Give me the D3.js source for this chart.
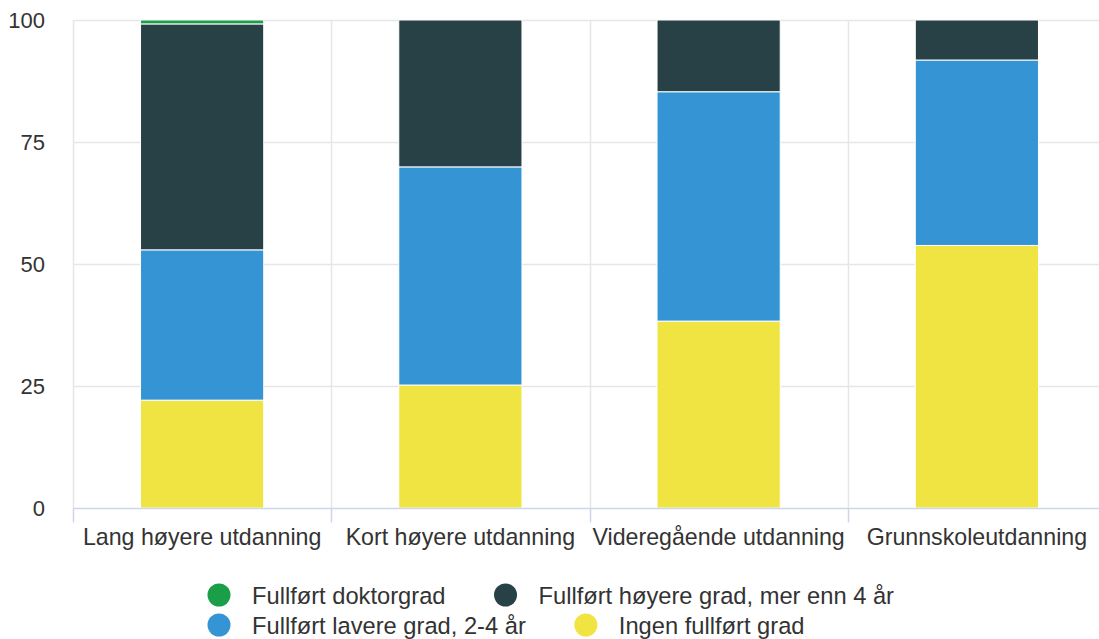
<!DOCTYPE html>
<html>
<head>
<meta charset="utf-8">
<script src="https://cdn.jsdelivr.net/npm/d3@7"></script>
<style>
  html, body { margin: 0; padding: 0; background: #fff; }
  svg { display: block; font-family: "Liberation Sans", Arial, sans-serif; }
</style>
</head>
<body>
<div id="chart"></div>
<script>
// education levels on the x axis
const categories = [
  "Lang høyere utdanning",
  "Kort høyere utdanning",
  "Videregående utdanning",
  "Grunnskoleutdanning"
];

// series, stacked bottom to top
const seriesNames = [
  "Ingen fullført grad",
  "Fullført lavere grad, 2-4 år",
  "Fullført høyere grad, mer enn 4 år",
  "Fullført doktorgrad"
];
const ingen = [22.1, 25.2, 38.3, 53.8];
const lavere = [30.8, 44.7, 47.0, 38.0];
const hoyere = [46.3, 30.1, 14.7, 8.2];
const doktor = [0.8, 0, 0, 0];

const colors = ["#efe441", "#3594d3", "#284146", "#1a9e48"];
const yTicks = [0, 25, 50, 75, 100];

const width = 1099, height = 639;
const margin = { top: 20, left: 73, bottom: 131 };
const plotRight = 1106;

const svg = d3.select("#chart").append("svg")
  .attr("width", width)
  .attr("height", height);

const x = d3.scaleBand()
  .domain(categories)
  .range([margin.left, plotRight])
  .paddingInner(0)
  .paddingOuter(0);

const y = d3.scaleLinear()
  .domain([0, 100])
  .range([height - margin.bottom, margin.top]);

// gridlines
svg.append("g")
  .selectAll("line")
  .data(yTicks.filter(d => d > 0))
  .join("line")
  .attr("x1", margin.left)
  .attr("x2", width)
  .attr("y1", d => y(d) + 0.5)
  .attr("y2", d => y(d) + 0.5)
  .attr("stroke", "#e6e6e6")
  .attr("stroke-width", 1.5);

svg.append("g")
  .selectAll("line")
  .data(categories)
  .join("line")
  .attr("x1", d => Math.round(x(d)) + 0.5)
  .attr("x2", d => Math.round(x(d)) + 0.5)
  .attr("y1", y(100))
  .attr("y2", y(0))
  .attr("stroke", "#e6e6e6")
  .attr("stroke-width", 1.5);

// y axis labels
svg.append("g")
  .selectAll("text")
  .data(yTicks)
  .join("text")
  .attr("x", 45)
  .attr("y", d => y(d) + 8)
  .attr("text-anchor", "end")
  .attr("fill", "#333")
  .style("font-size", "22px")
  .text(d => d);

// stacked bars
const table = categories.map((c, i) => ({
  cat: c,
  s0: ingen[i], s1: lavere[i], s2: hoyere[i], s3: doktor[i]
}));
const stack = d3.stack().keys(["s0", "s1", "s2", "s3"]);
const stacked = stack(table);

const barW = x.bandwidth() * 0.477;

svg.append("g")
  .selectAll("g")
  .data(stacked)
  .join("g")
  .attr("fill", (d, i) => colors[i])
  .selectAll("rect")
  .data(d => d.filter(p => p[1] - p[0] > 0))
  .join("rect")
  .attr("x", d => x(d.data.cat) + (x.bandwidth() - barW) / 2)
  .attr("width", barW)
  .attr("y", d => y(d[1]))
  .attr("height", d => y(d[0]) - y(d[1]))
  .attr("stroke", "#fff")
  .attr("stroke-width", 1);

// x axis line and ticks
const axisY = y(0) + 0.5;
svg.append("line")
  .attr("x1", margin.left)
  .attr("x2", width)
  .attr("y1", axisY)
  .attr("y2", axisY)
  .attr("stroke", "#ccd6eb")
  .attr("stroke-width", 1.5);

svg.append("g")
  .selectAll("line")
  .data(categories)
  .join("line")
  .attr("x1", d => Math.round(x(d)) + 0.5)
  .attr("x2", d => Math.round(x(d)) + 0.5)
  .attr("y1", axisY)
  .attr("y2", axisY + 14)
  .attr("stroke", "#ccd6eb")
  .attr("stroke-width", 1.5);

svg.append("g")
  .selectAll("text")
  .data(categories)
  .join("text")
  .attr("x", d => x(d) + x.bandwidth() / 2)
  .attr("y", 545)
  .attr("text-anchor", "middle")
  .attr("fill", "#333")
  .style("font-size", "23.2px")
  .text(d => d);

// legend, two rows flowing left to right
const legendRows = [[3, 2], [1, 0]];
const rowY = [595, 625];
legendRows.forEach((row, r) => {
  let cx = 219;
  row.forEach(si => {
    const g = svg.append("g");
    g.append("circle")
      .attr("cx", cx)
      .attr("cy", rowY[r])
      .attr("r", 11.5)
      .attr("fill", colors[si]);
    const t = g.append("text")
      .attr("x", cx + 33)
      .attr("y", rowY[r] + 9)
      .attr("fill", "#333")
      .style("font-size", "23.7px")
      .text(seriesNames[si]);
    cx += 33 + t.node().getComputedTextLength() + 60;
  });
});
</script>
</body>
</html>
